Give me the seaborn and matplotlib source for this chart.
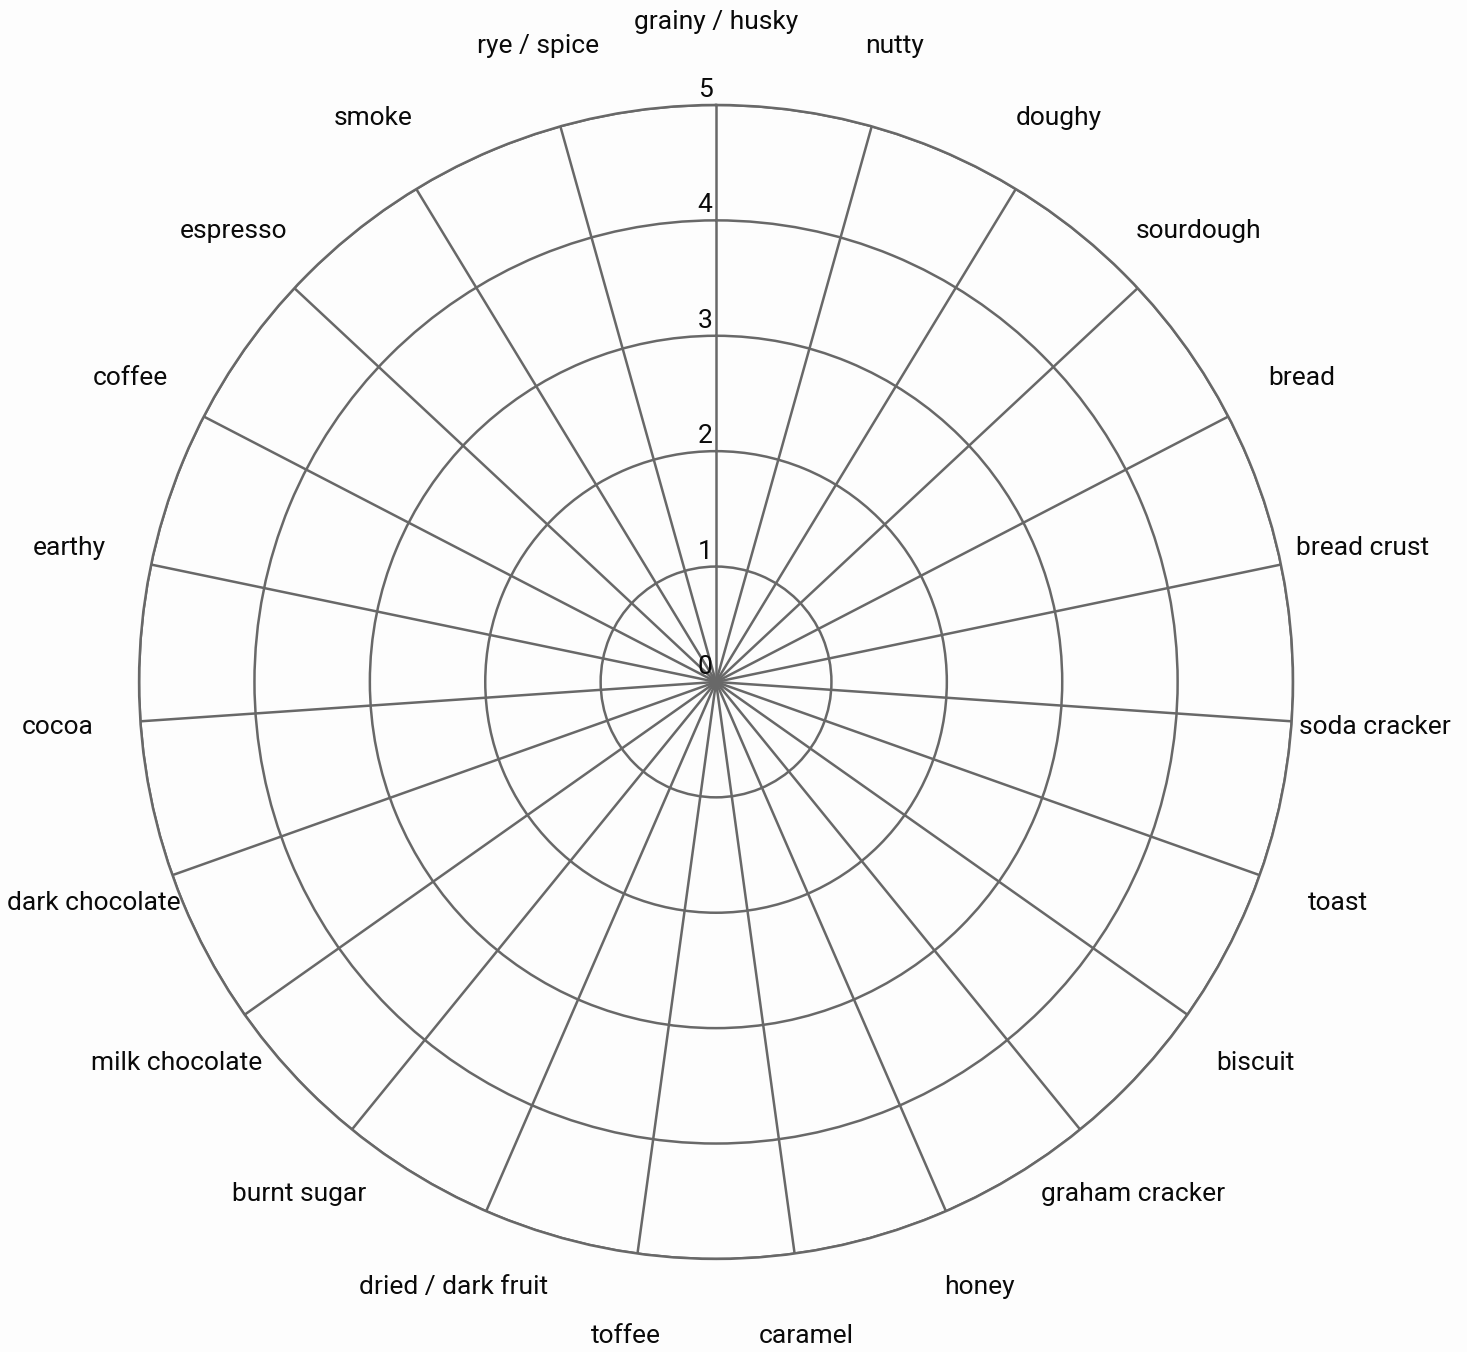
import numpy as np
import matplotlib
matplotlib.use("Agg")
import matplotlib.pyplot as plt
import seaborn as sns

# Flavour axes, clockwise from the top
categories = [
    "grainy / husky", "nutty", "doughy", "sourdough", "bread",
    "bread crust", "soda cracker", "toast", "biscuit", "graham cracker",
    "honey", "caramel", "toffee", "dried / dark fruit", "burnt sugar",
    "milk chocolate", "dark chocolate", "cocoa", "earthy", "coffee",
    "espresso", "smoke", "rye / spice",
]
r_ticks = [0, 1, 2, 3, 4, 5]
r_max = 5

sns.set_theme(style="white")
plt.rcParams["font.family"] = ["Roboto", "DejaVu Sans"]

bg = "#fdfdfd"
grid_color = "#686868"

fig = plt.figure(figsize=(14.67, 13.52), dpi=100, facecolor=bg)
ax = fig.add_axes([0.0948, 0.0688, 0.7866, 0.8536], projection="polar")
ax.set_facecolor(bg)

ax.set_theta_zero_location("N")
ax.set_theta_direction(-1)

angles = np.linspace(0, 2 * np.pi, len(categories), endpoint=False)

ax.set_xticks(angles)
ax.set_xticklabels([])
ax.set_ylim(0, r_max)
ax.set_yticks(r_ticks)
ax.set_yticklabels([])

ax.grid(True, color=grid_color, linewidth=1.8)
ax.spines["polar"].set_color(grid_color)
ax.spines["polar"].set_linewidth(1.8)
ax.tick_params(length=0)

# Category labels around the outside
for ang, lab in zip(angles, categories):
    ax.text(ang, r_max * 1.144, lab, ha="center", va="center",
            fontsize=19, color="#0a0a0a", clip_on=False)

# Radial tick numbers along the top spoke
for r in r_ticks:
    ax.annotate(str(r), xy=(0, r), xytext=(-11, 15),
                textcoords="offset pixels", ha="center", va="center",
                fontsize=19, color="#0a0a0a", annotation_clip=False)

fig.savefig("out.png", dpi=100, facecolor=bg)
